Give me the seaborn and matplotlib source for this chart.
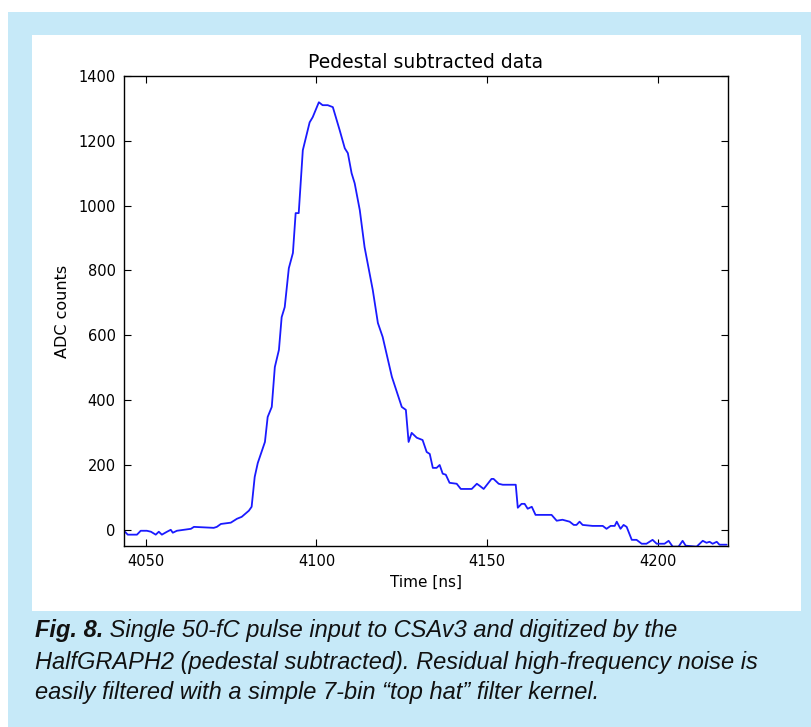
import numpy as np
import pandas as pd
import matplotlib
matplotlib.use("Agg")
import matplotlib.pyplot as plt
import seaborn as sns
from matplotlib import font_manager
from matplotlib.patches import Rectangle

# ---- data ----
time_ns = [4043.6, 4044.7, 4047.4, 4048.5, 4050.3, 4051.5, 4052.9, 4053.8, 4054.7, 4056.2,
           4057.3, 4057.9, 4059.1, 4063.2, 4064.1, 4069.9, 4070.8, 4072.0, 4074.9, 4076.7,
           4078.1, 4080.2, 4081.0, 4081.9, 4082.8, 4084.9, 4085.7, 4086.9, 4087.8, 4089.0,
           4089.8, 4090.7, 4091.9, 4093.1, 4093.9, 4094.8, 4096.0, 4098.0, 4098.9, 4100.7,
           4101.8, 4103.3, 4104.8, 4106.8, 4108.3, 4109.2, 4110.3, 4111.2, 4112.7, 4114.1,
           4116.5, 4118.0, 4119.4, 4122.1, 4125.0, 4126.2, 4127.0, 4127.9, 4129.4, 4131.1,
           4132.3, 4133.2, 4134.1, 4135.2, 4136.1, 4137.0, 4137.9, 4139.0, 4141.1, 4142.3,
           4145.5, 4147.0, 4147.8, 4149.0, 4151.3, 4151.9, 4153.4, 4154.6, 4158.4, 4159.0,
           4160.1, 4161.0, 4161.9, 4163.1, 4164.2, 4168.9, 4170.4, 4172.1, 4174.2, 4175.4,
           4176.2, 4177.1, 4178.0, 4180.9, 4183.9, 4185.0, 4186.2, 4187.4, 4188.0, 4189.1,
           4190.0, 4190.9, 4192.4, 4193.8, 4195.3, 4196.7, 4198.5, 4199.7, 4202.0, 4203.2,
           4204.4, 4206.1, 4207.3, 4208.2, 4211.4, 4213.2, 4214.3, 4215.2, 4216.1, 4217.3,
           4218.1, 4220.2]
adc_counts = [-3, -15, -15, -3, -3, -6, -15, -6, -15, -6,
              0, -9, -3, 3, 9, 6, 9, 18, 22, 34,
              40, 59, 71, 163, 206, 271, 348, 379, 502, 555,
              656, 687, 807, 854, 977, 977, 1171, 1257, 1273, 1319,
              1310, 1310, 1304, 1233, 1177, 1162, 1100, 1069, 986, 872,
              740, 638, 595, 472, 379, 370, 271, 299, 284, 277,
              240, 234, 191, 191, 200, 173, 170, 145, 142, 126,
              126, 142, 136, 126, 157, 157, 142, 139, 139, 68,
              80, 80, 65, 71, 46, 46, 28, 31, 25, 15,
              15, 25, 15, 12, 12, 3, 12, 12, 25, 3,
              15, 9, -31, -31, -43, -43, -31, -43, -43, -34,
              -52, -52, -34, -49, -52, -34, -40, -37, -43, -37,
              -46, -46]
x_ticks = [4050, 4100, 4150, 4200]
y_ticks = [0, 200, 400, 600, 800, 1000, 1200, 1400]

title = "Pedestal subtracted data"
x_label = "Time [ns]"
y_label = "ADC counts"
caption_bold = "Fig. 8."
caption_lines = [" Single 50-fC pulse input to CSAv3 and digitized by the",
                 "HalfGRAPH2 (pedestal subtracted). Residual high-frequency noise is",
                 "easily filtered with a simple 7-bin \u201ctop hat\u201d filter kernel."]

df = pd.DataFrame({"time": time_ns, "adc": adc_counts})

sns.set_theme(style="ticks")
plt.rcParams["font.family"] = ["DejaVu Sans"]

W, H = 811, 727
fig = plt.figure(figsize=(W / 100, H / 100), dpi=100)
fig.patch.set_facecolor("white")
blue_bg = "#c6e9f8"
fig.patches.append(Rectangle((8 / W, 0), 1, 1 - 12 / H, transform=fig.transFigure,
                             facecolor=blue_bg, edgecolor="none", zorder=-10))
fig.patches.append(Rectangle((32 / W, 1 - 611 / H), (801 - 32) / W, (611 - 35) / H,
                             transform=fig.transFigure, facecolor="white",
                             edgecolor="none", zorder=-9))

ax = fig.add_axes([124 / W, 1 - 546 / H, (728 - 124) / W, (546 - 76) / H])
ax.set_facecolor("white")
sns.lineplot(data=df, x="time", y="adc", ax=ax, color="#1a1aff", linewidth=1.3,
             estimator=None, sort=False)
ax.set_xlim(4043.6, 4220.6)
ax.set_ylim(-50, 1400)
ax.set_xticks(x_ticks)
ax.set_yticks(y_ticks)
ax.tick_params(direction="in", length=5, width=0.8, top=True, right=True,
               labelsize=10.5, colors="black", pad=6)
for s in ax.spines.values():
    s.set_visible(True)
    s.set_color("black")
    s.set_linewidth(1.0)
ax.set_title(title, fontsize=13.5, pad=6, color="black")
ax.set_xlabel(x_label, fontsize=11, labelpad=4, color="black")
ax.set_ylabel(y_label, fontsize=11.5, labelpad=6, color="black")
ax.grid(False)

# caption
names = {f.name for f in font_manager.fontManager.ttflist}
cap_family = "Liberation Sans Narrow" if "Liberation Sans Narrow" in names else "Liberation Sans"
cap_size = 17.5 if cap_family == "Liberation Sans Narrow" else 17.0
cap_color = "#111111"
ys = [631, 662, 692]
t0 = fig.text(35 / W, 1 - ys[0] / H, caption_bold, family=cap_family, style="italic",
              weight="bold", fontsize=cap_size, va="center", ha="left", color=cap_color)
fig.canvas.draw()
bb = t0.get_window_extent()
fig.text(bb.x1 / W, 1 - ys[0] / H, caption_lines[0], family=cap_family, style="italic",
         fontsize=cap_size, va="center", ha="left", color=cap_color)
for yy, line in zip(ys[1:], caption_lines[1:]):
    fig.text(35 / W, 1 - yy / H, line, family=cap_family, style="italic",
             fontsize=cap_size, va="center", ha="left", color=cap_color)

fig.savefig("out.png", dpi=100, facecolor=fig.get_facecolor())
